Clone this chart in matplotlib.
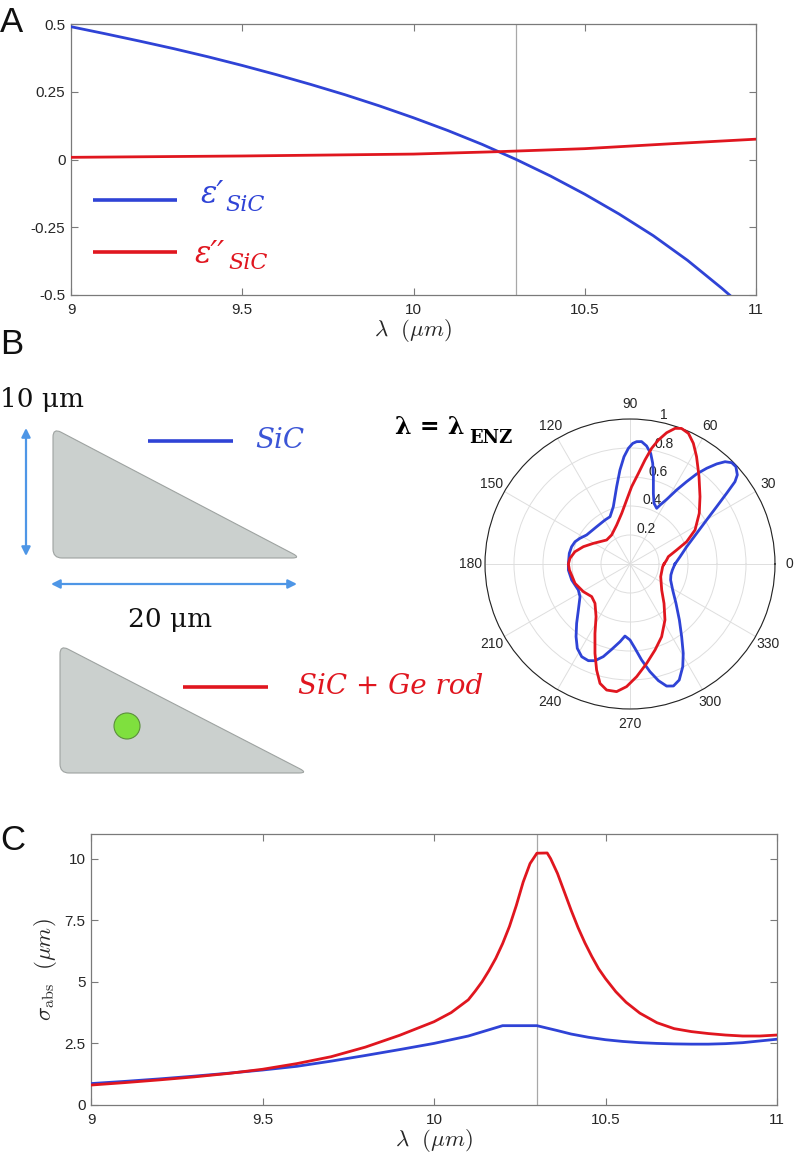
import numpy as np
import matplotlib
matplotlib.use("Agg")
import matplotlib.pyplot as plt
from matplotlib.path import Path
from matplotlib.patches import PathPatch, Circle

plt.rcParams['font.family'] = ['Liberation Sans', 'DejaVu Sans']
plt.rcParams['axes.unicode_minus'] = False
plt.rcParams['mathtext.fontset'] = 'cm'

# ---------------- data ----------------
# Panel A: permittivity of SiC
lam_a = [9.0, 9.1, 9.2, 9.3, 9.4, 9.5, 9.6, 9.7, 9.8, 9.9, 10.0, 10.1, 10.2, 10.3, 10.4, 10.5,
         10.6, 10.7, 10.8, 10.9, 10.95]
eps_real = [0.490, 0.464, 0.437, 0.409, 0.379, 0.347, 0.313, 0.277, 0.239, 0.198, 0.154, 0.107,
            0.056, 0.0, -0.061, -0.128, -0.201, -0.281, -0.372, -0.475, -0.53]
lam_a2 = [9.0, 9.5, 10.0, 10.25, 10.5, 10.75, 11.0]
eps_imag = [0.008, 0.013, 0.02, 0.029, 0.04, 0.058, 0.075]
lam_enz = 10.3

# Panel B: polar emission patterns (degrees, normalised)
theta_sic = [0, 2.9, 8.3, 17.0, 24.7, 29.9, 33.5, 36.2, 38.1, 39.7, 42.6, 44.9, 47.1, 49.1, 51.3,
             53.5, 55.5, 57.8, 60.4, 63.0, 64.4, 68.4, 71.7, 75.0, 77.3, 79.4, 82.0, 84.6, 86.9,
             88.7, 90.8, 93.2, 96.1, 99.8, 106.2, 112.9, 119.6, 131.8, 146.2, 152.8, 157.9, 163.5,
             170.0, 179.4, 185.6, 195.3, 206.7, 213.2, 221.7, 228.0, 233.4, 238.0, 242.5, 246.7,
             250.1, 253.9, 257.9, 262.7, 266.0, 270.0, 273.4, 276.9, 280.5, 283.7, 286.7, 289.6,
             293.0, 297.2, 300.8, 305.4, 311.4, 319.5, 328.6, 338.5, 345.0, 351.8, 360]
r_sic = [0.31, 0.322, 0.349, 0.409, 0.506, 0.610, 0.717, 0.826, 0.920, 0.962, 0.992, 0.990, 0.963,
         0.913, 0.846, 0.772, 0.689, 0.603, 0.513, 0.456, 0.426, 0.450, 0.513, 0.623, 0.712,
         0.776, 0.822, 0.848, 0.845, 0.832, 0.798, 0.741, 0.652, 0.541, 0.412, 0.354, 0.349,
         0.345, 0.360, 0.388, 0.409, 0.420, 0.425, 0.425, 0.427, 0.417, 0.399, 0.412, 0.477,
         0.550, 0.624, 0.686, 0.721, 0.726, 0.709, 0.665, 0.602, 0.540, 0.498, 0.524, 0.583,
         0.667, 0.755, 0.828, 0.879, 0.893, 0.869, 0.796, 0.717, 0.615, 0.515, 0.417, 0.345,
         0.301, 0.292, 0.295, 0.31]
theta_ge = [0, 6.2, 10.8, 16.7, 21.5, 27.6, 36.2, 43.9, 51.7, 58.2, 62.3, 65.9, 69.2, 71.6, 74.4,
            77.1, 79.4, 81.8, 84.7, 88.8, 93.0, 99.3, 108.9, 122.3, 134.2, 150.6, 159.6, 167.4,
            174.6, 180.0, 185.6, 199.4, 210.7, 220.4, 228.3, 237.2, 243.2, 248.6, 252.5, 255.9,
            259.5, 264.0, 268.4, 273.4, 279.5, 286.2, 293.5, 302.0, 310.8, 320.6, 337.6, 355.3, 360]
r_ge = [0.235, 0.254, 0.269, 0.336, 0.420, 0.506, 0.592, 0.670, 0.768, 0.871, 0.940, 0.987, 1.0,
        0.986, 0.940, 0.877, 0.812, 0.725, 0.628, 0.533, 0.442, 0.354, 0.284, 0.237, 0.231,
        0.290, 0.343, 0.389, 0.416, 0.425, 0.420, 0.402, 0.374, 0.347, 0.363, 0.432, 0.536,
        0.662, 0.766, 0.849, 0.884, 0.885, 0.846, 0.778, 0.695, 0.618, 0.547, 0.455, 0.359,
        0.283, 0.229, 0.226, 0.235]
r_ticks = [0.2, 0.4, 0.6, 0.8, 1.0]
r_ticklabels = ['0.2', '0.4', '0.6', '0.8', '1']

# Panel C: absorption cross section
lam_c_ge = [9.0, 9.1, 9.2, 9.3, 9.4, 9.5, 9.6, 9.7, 9.8, 9.9, 10.0, 10.05, 10.1, 10.12, 10.14,
            10.16, 10.18, 10.2, 10.22, 10.24, 10.26, 10.28, 10.3, 10.33, 10.34, 10.36, 10.38,
            10.4, 10.42, 10.44, 10.46, 10.48, 10.5, 10.53, 10.56, 10.6, 10.65, 10.7, 10.75, 10.8,
            10.85, 10.9, 10.95, 11.0]
sigma_ge = [0.81, 0.91, 1.02, 1.14, 1.28, 1.45, 1.68, 1.96, 2.35, 2.83, 3.38, 3.75, 4.27, 4.62,
            5.0, 5.45, 5.95, 6.55, 7.25, 8.1, 9.05, 9.8, 10.22, 10.23, 10.0, 9.4, 8.65, 7.9, 7.2,
            6.58, 6.03, 5.53, 5.13, 4.6, 4.17, 3.73, 3.34, 3.1, 2.98, 2.9, 2.84, 2.8, 2.8, 2.84]
lam_c_sic = [9.0, 9.1, 9.2, 9.3, 9.4, 9.5, 9.6, 9.7, 9.8, 9.9, 10.0, 10.1, 10.2, 10.3, 10.33,
             10.36, 10.4, 10.45, 10.5, 10.55, 10.6, 10.65, 10.7, 10.75, 10.8, 10.85, 10.9, 10.95,
             11.0]
sigma_sic = [0.87, 0.96, 1.06, 1.17, 1.29, 1.42, 1.57, 1.78, 2.01, 2.25, 2.5, 2.8, 3.22, 3.22,
             3.12, 3.02, 2.88, 2.75, 2.65, 2.58, 2.53, 2.5, 2.48, 2.47, 2.47, 2.49, 2.53, 2.6, 2.67]

x_ticks = [9, 9.5, 10, 10.5, 11]
x_ticklabels = ['9', '9.5', '10', '10.5', '11']
a_yticks = [-0.5, -0.25, 0, 0.25, 0.5]
a_yticklabels = ['-0.5', '-0.25', '0', '0.25', '0.5']
c_yticks = [0, 2.5, 5, 7.5, 10]
c_yticklabels = ['0', '2.5', '5', '7.5', '10']

BLUE = '#2f43d6'
RED = '#e0161f'
ARROW = '#4e96e6'
W, H = 796, 1160

fig = plt.figure(figsize=(W / 100, H / 100), dpi=100)


def fx(px):
    return px / W


def fy(py):
    return 1 - py / H


def style_cart(ax):
    for s in ax.spines.values():
        s.set_color('#7a7a7a')
        s.set_linewidth(0.9)
    ax.tick_params(direction='in', top=True, right=True, length=5, width=0.8,
                   color='#7a7a7a', labelsize=11, labelcolor='#262626')
    ax.tick_params(axis='x', pad=6)
    ax.tick_params(axis='y', pad=4)


# ---------------- Panel A ----------------
axA = fig.add_axes([fx(71), fy(295), fx(756) - fx(71), fy(24) - fy(295)])
axA.axvline(lam_enz, color='#a8a8a8', lw=0.9, zorder=1)
axA.plot(lam_a, eps_real, color=BLUE, lw=2.0, zorder=3)
axA.plot(lam_a2, eps_imag, color=RED, lw=2.0, zorder=3)
axA.set_xlim(9, 11)
axA.set_ylim(-0.5, 0.5)
axA.set_xticks(x_ticks)
axA.set_xticklabels(x_ticklabels)
axA.set_yticks(a_yticks)
axA.set_yticklabels(a_yticklabels)
style_cart(axA)
axA.set_xlabel(r'$\lambda\ \ (\mu m)$', fontsize=16.5, labelpad=0, color='#262626')

# ---------------- Panel B (polar) ----------------
axB = fig.add_axes([fx(485), fy(709), fx(775) - fx(485), fy(419) - fy(709)], projection='polar')
axB.plot(np.deg2rad(theta_sic), r_sic, color=BLUE, lw=2.0, zorder=3, clip_on=False)
axB.plot(np.deg2rad(theta_ge), r_ge, color=RED, lw=2.0, zorder=3, clip_on=False)
axB.set_ylim(0, 1)
axB.set_yticks(r_ticks)
axB.set_yticklabels(r_ticklabels)
axB.set_rlabel_position(78)
axB.set_thetagrids(np.arange(0, 360, 30), [str(a) for a in range(0, 360, 30)])
axB.tick_params(axis='x', labelsize=10, pad=0, colors='#262626')
axB.tick_params(axis='y', labelsize=10, colors='#262626')
axB.grid(color='#dedede', lw=0.7)
axB.spines['polar'].set_color('#222222')
axB.spines['polar'].set_linewidth(0.8)

# ---------------- Panel C ----------------
axC = fig.add_axes([fx(91), fy(1105), fx(777) - fx(91), fy(834) - fy(1105)])
axC.axvline(lam_enz, color='#a8a8a8', lw=0.9, zorder=1)
axC.plot(lam_c_sic, sigma_sic, color=BLUE, lw=2.0, zorder=3)
axC.plot(lam_c_ge, sigma_ge, color=RED, lw=2.0, zorder=3)
axC.set_xlim(9, 11)
axC.set_ylim(0, 11)
axC.set_xticks(x_ticks)
axC.set_xticklabels(x_ticklabels)
axC.set_yticks(c_yticks)
axC.set_yticklabels(c_yticklabels)
style_cart(axC)
axC.set_xlabel(r'$\lambda\ \ (\mu m)$', fontsize=16.5, labelpad=0, color='#262626')
axC.set_ylabel(r'$\sigma_{\rm abs}\ \ (\mu m)$', fontsize=16.5, labelpad=4, color='#262626')

# ---------------- overlay (schematic + texts) ----------------
ov = fig.add_axes([0, 0, 1, 1], zorder=10)
ov.set_xlim(0, W)
ov.set_ylim(H, 0)
ov.axis('off')


def rounded_poly(pts, rad):
    verts, codes = [], []
    n = len(pts)
    for i in range(n):
        p0 = np.array(pts[i - 1], float)
        p1 = np.array(pts[i], float)
        p2 = np.array(pts[(i + 1) % n], float)
        d1 = (p0 - p1) / np.linalg.norm(p0 - p1)
        d2 = (p2 - p1) / np.linalg.norm(p2 - p1)
        a = p1 + d1 * rad
        b = p1 + d2 * rad
        verts.append(a)
        codes.append(Path.MOVETO if i == 0 else Path.LINETO)
        verts += [p1, b]
        codes += [Path.CURVE3, Path.CURVE3]
    verts.append(verts[0])
    codes.append(Path.CLOSEPOLY)
    return Path(verts, codes)


tri1 = [(53, 428), (53, 558), (301, 558)]
tri2 = [(60, 645), (60, 773), (308, 773)]
for tri in (tri1, tri2):
    ov.add_patch(PathPatch(rounded_poly(tri, 9), facecolor='#cbd0ce', edgecolor='#9ea3a1', lw=0.8))
ov.add_patch(Circle((127, 726), 13, facecolor='#7fe03e', edgecolor='#5b8f3c', lw=0.8))

ov.annotate('', xy=(26, 428), xytext=(26, 556),
            arrowprops=dict(arrowstyle='<|-|>', color=ARROW, lw=1.6, mutation_scale=13,
                            shrinkA=0, shrinkB=0))
ov.annotate('', xy=(51, 584), xytext=(297, 584),
            arrowprops=dict(arrowstyle='<|-|>', color=ARROW, lw=1.6, mutation_scale=13,
                            shrinkA=0, shrinkB=0))

serif = ['DejaVu Serif', 'DejaVu Sans']
ov.text(0, 400, '10 μm', family=serif, fontsize=19, ha='left', va='center', color='#111111')
ov.text(170, 620, '20 μm', family=serif, fontsize=19, ha='center', va='center', color='#111111')

ov.plot([148, 233], [441, 441], color=BLUE, lw=2.6, solid_capstyle='butt')
ov.text(255, 441, 'SiC', family=serif, style='italic', fontsize=20, color='#3b55d6',
        ha='left', va='center')
ov.plot([183, 268], [687, 687], color=RED, lw=2.6, solid_capstyle='butt')
ov.text(298, 687, 'SiC + Ge rod', family=serif, style='italic', fontsize=20, color=RED,
        ha='left', va='center')

ov.text(395, 434, 'λ = λ', family=serif, weight='bold', fontsize=17, ha='left', va='baseline',
        color='#000000')
ov.text(469, 443, 'ENZ', family=serif, weight='bold', fontsize=13, ha='left', va='baseline',
        color='#000000')

# legend of panel A
ov.plot([93, 177], [200, 200], color=BLUE, lw=2.6, solid_capstyle='butt')
ov.text(201, 203, 'ε′', family=serif, style='italic', fontsize=22, color=BLUE,
        ha='left', va='baseline')
ov.text(225, 211, 'SiC', family=serif, style='italic', fontsize=16, color=BLUE,
        ha='left', va='baseline')
ov.plot([93, 177], [252, 252], color=RED, lw=2.6, solid_capstyle='butt')
ov.text(195, 263, 'ε′′', family=serif, style='italic', fontsize=22, color=RED,
        ha='left', va='baseline')
ov.text(228, 269, 'SiC', family=serif, style='italic', fontsize=16, color=RED,
        ha='left', va='baseline')

for lab, py in (('A', 23), ('B', 344), ('C', 840)):
    ov.text(0, py, lab, fontsize=25, ha='left', va='center', color='#111111')

fig.savefig('out.png', dpi=100)
